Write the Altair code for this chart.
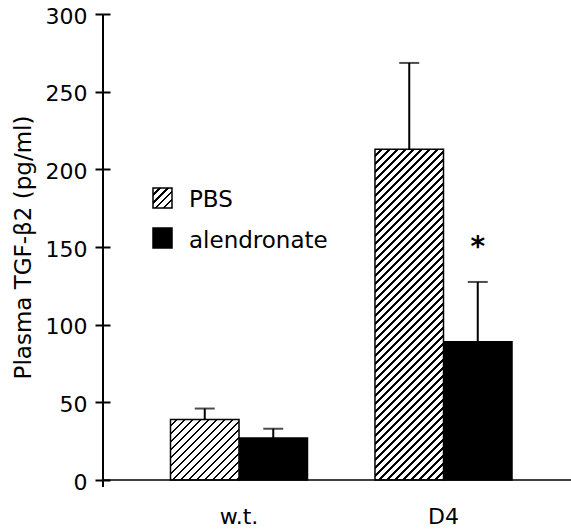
import altair as alt
import pandas as pd

# ---- data ----
groups = ["w.t.", "D4"]
treatments = ["PBS", "alendronate"]
pbs_mean = [39, 213]
pbs_err = [7, 55.5]
alen_mean = [27, 89]
alen_err = [6, 38.5]
y_ticks = [0, 50, 100, 150, 200, 250, 300]
significant = [("D4", "alendronate")]

# ---- layout ----
W, H = 468, 466
YMAX = 300
PX = H / YMAX
X_RANGE = [67.5, 409]
PAD_INNER = 0.33
step = (X_RANGE[1] - X_RANGE[0]) / (2 - PAD_INNER)
sub_w = step * (1 - PAD_INNER) / 2

rows = []
for i, g in enumerate(groups):
    rows.append({"group": g, "treatment": "PBS", "mean": pbs_mean[i],
                 "upper": pbs_mean[i] + pbs_err[i]})
    rows.append({"group": g, "treatment": "alendronate", "mean": alen_mean[i],
                 "upper": alen_mean[i] + alen_err[i]})
df = pd.DataFrame(rows)
sig_df = df[[(r.group, r.treatment) in significant for r in df.itertuples()]]


def hatch(w, h, period=8.0, frac=0.36):
    """diagonal '/' stripes as a linear gradient in bounding-box units"""
    T = (w + h) * w / (w * w + h * h)
    pt = period / (w + h)
    stops = [{"offset": 0, "color": "white"}]
    k = 0
    while k * pt < 1:
        s0 = k * pt
        s1 = min(1, s0 + (1 - frac) * pt)
        s2 = min(1, s0 + pt)
        stops += [{"offset": round(s1, 5), "color": "white"},
                  {"offset": round(s1, 5), "color": "black"},
                  {"offset": round(s2, 5), "color": "black"},
                  {"offset": round(s2, 5), "color": "white"}]
        k += 1
    return {"gradient": "linear", "x1": 0, "y1": 0,
            "x2": round(T, 5), "y2": round(T * h / w, 5), "stops": stops}


x_enc = alt.X("group:N", sort=groups,
              scale=alt.Scale(domain=groups, range=X_RANGE,
                              paddingInner=PAD_INNER, paddingOuter=0),
              axis=alt.Axis(title=None, domain=False, ticks=False, tickSize=0,
                            labelAngle=0, labelFontSize=22, labelPadding=26,
                            labelColor="black"))
xo_enc = alt.XOffset("treatment:N",
                     scale=alt.Scale(domain=treatments, paddingInner=0, paddingOuter=0))
y_scale = alt.Scale(domain=[0, YMAX], nice=False)
y_axis = alt.Axis(title="Plasma TGF-β2 (pg/ml)", values=y_ticks, grid=False,
                  domain=False, offset=-7, tickSize=15, tickWidth=2,
                  tickColor="black", labelFontSize=22, labelPadding=8,
                  labelColor="black", labelOffset=2,
                  titleFontSize=23, titleFontWeight="normal", titleColor="black",
                  titleAngle=270, titleX=-80, titleY=233,
                  titleAlign="center", titleBaseline="alphabetic")

base = alt.Chart(df)

bars_alen = base.transform_filter(alt.datum.treatment == "alendronate").mark_bar(
    fill="black", stroke="black", strokeWidth=1.5
).encode(x=x_enc, xOffset=xo_enc, y=alt.Y("mean:Q", scale=y_scale, axis=y_axis))

layers = [bars_alen]
for i, g in enumerate(groups):
    grad = hatch(sub_w, pbs_mean[i] * PX)
    layers.append(
        base.transform_filter((alt.datum.treatment == "PBS") & (alt.datum.group == g))
        .mark_bar(fill=grad, stroke="black", strokeWidth=1.5)
        .encode(x=x_enc, xOffset=xo_enc, y=alt.Y("mean:Q", scale=y_scale))
    )

err = base.mark_rule(color="black", strokeWidth=2).encode(
    x=x_enc, xOffset=xo_enc, y=alt.Y("mean:Q", scale=y_scale), y2="upper:Q")
caps = base.mark_tick(color="black", size=20, thickness=2, orient="horizontal").encode(
    x=x_enc, xOffset=xo_enc, y=alt.Y("upper:Q", scale=y_scale))
star = alt.Chart(sig_df).mark_text(text="*", fontSize=28, dy=-26, color="black",
                                   baseline="alphabetic", fontWeight="bold").encode(
    x=x_enc, xOffset=xo_enc, y=alt.Y("upper:Q", scale=y_scale))

one = alt.Chart(pd.DataFrame({"label": ["axis"]}))
x_line = one.mark_rule(color="black", strokeWidth=1.5).encode(
    x=alt.value(0), x2=alt.value(W), y=alt.value(H))
y_line = one.mark_rule(color="black", strokeWidth=2).encode(
    x=alt.value(0), y=alt.value(0), y2=alt.value(H + 7))

leg_df = pd.DataFrame({"label": treatments})
leg_pbs_box = alt.Chart(leg_df).transform_filter(alt.datum.label == "PBS").mark_rect(
    fill=hatch(19, 20, period=8.0), stroke="black", strokeWidth=1.5).encode(
    x=alt.value(50), x2=alt.value(69), y=alt.value(174), y2=alt.value(194))
leg_alen_box = alt.Chart(leg_df).transform_filter(alt.datum.label == "alendronate").mark_rect(
    fill="black", stroke="black", strokeWidth=1.5).encode(
    x=alt.value(50), x2=alt.value(69), y=alt.value(214), y2=alt.value(234))
leg_pbs_txt = alt.Chart(leg_df).transform_filter(alt.datum.label == "PBS").mark_text(
    align="left", baseline="alphabetic", fontSize=23, color="black").encode(
    text="label:N", x=alt.value(86), y=alt.value(193))
leg_alen_txt = alt.Chart(leg_df).transform_filter(alt.datum.label == "alendronate").mark_text(
    align="left", baseline="alphabetic", fontSize=23, color="black").encode(
    text="label:N", x=alt.value(86), y=alt.value(234))

chart = alt.layer(
    *layers, err, caps, star, x_line, y_line,
    leg_pbs_box, leg_alen_box, leg_pbs_txt, leg_alen_txt
).properties(
    width=W, height=H,
    autosize=alt.AutoSizeParams(type="none"),
    padding={"left": 103, "top": 14, "right": 0, "bottom": 49},
).configure(font="DejaVu Sans").configure_view(stroke=None)

chart.save("out.html", embed_options={"renderer": "svg", "actions": False})
